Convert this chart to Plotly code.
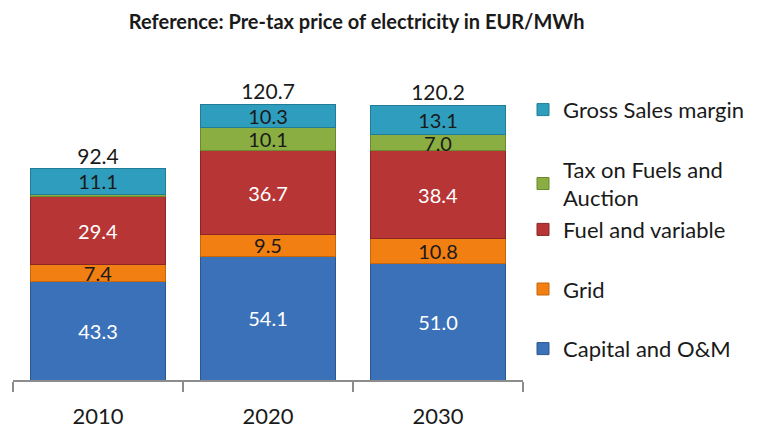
import plotly.graph_objects as go

years = ["2010", "2020", "2030"]
capital = [43.3, 54.1, 51.0]
grid = [7.4, 9.5, 10.8]
fuel = [29.4, 36.7, 38.4]
tax = [1.2, 10.1, 7.0]
margin = [11.1, 10.3, 13.1]
totals = [92.4, 120.7, 120.2]

# name, values, fill, edge, label colour, legend group, legend rank
series = [
    ("Capital and O&M", capital, "#3b71b9", "#2d5791", "white", "g4", 5),
    ("Grid", grid, "#f27f12", "#c8660a", "#1a1a1a", "g3", 4),
    ("Fuel and variable", fuel, "#b83535", "#8a2626", "white", "g2", 3),
    ("Tax on Fuels and<br>Auction", tax, "#8aae41", "#6b8a2f", "#1a1a1a", "g2", 2),
    ("Gross Sales margin", margin, "#2f9dbd", "#227c96", "#1a1a1a", "g1", 1),
]

FONT = "Lato"
fig = go.Figure()
for name, vals, col, edge, tcol, grp, rank in series:
    labels = [f"{v:.1f}" if v >= 3 else "" for v in vals]
    fig.add_trace(go.Bar(
        x=years, y=vals, name=name,
        marker=dict(color=col, line=dict(color=edge, width=1)),
        text=labels, textposition="inside", insidetextanchor="middle",
        textangle=0, constraintext="none",
        textfont=dict(color=tcol, size=20, family=FONT),
        legendgroup=grp, legendrank=rank,
    ))

fig.add_trace(go.Scatter(
    x=years, y=totals, mode="text", text=[f"{t:.1f}" for t in totals],
    textposition="top center", showlegend=False,
    textfont=dict(size=21, color="#1a1a1a", family=FONT), cliponaxis=False,
))

fig.update_layout(
    width=758, height=431,
    barmode="stack", bargap=0.21,
    paper_bgcolor="white", plot_bgcolor="white",
    margin=dict(l=5, r=243, t=52, b=59, autoexpand=False),
    title=dict(text="<b>Reference: Pre-tax price of electricity in EUR/MWh</b>",
               x=0.46, xanchor="center", y=0.968, yanchor="middle",
               font=dict(size=20, family=FONT, color="#1a1a1a")),
    legend=dict(
        x=1.0, xanchor="left", y=0.91, yanchor="top",
        traceorder="grouped", tracegroupgap=28,
        font=dict(size=22, family=FONT, color="#1a1a1a"),
        itemwidth=30,
    ),
    showlegend=True,
)
fig.update_xaxes(
    automargin=False,
    showline=True, linecolor="#8c8c8c", linewidth=1.5,
    ticks="outside", tickson="boundaries", ticklen=10, tickcolor="#8c8c8c",
    tickwidth=1.5, ticklabelstandoff=16,
    tickfont=dict(size=22, family=FONT, color="#1a1a1a"),
    showgrid=False,
)
fig.update_yaxes(range=[0, 140], visible=False, showgrid=False, automargin=False)

fig.write_html("out.html")
